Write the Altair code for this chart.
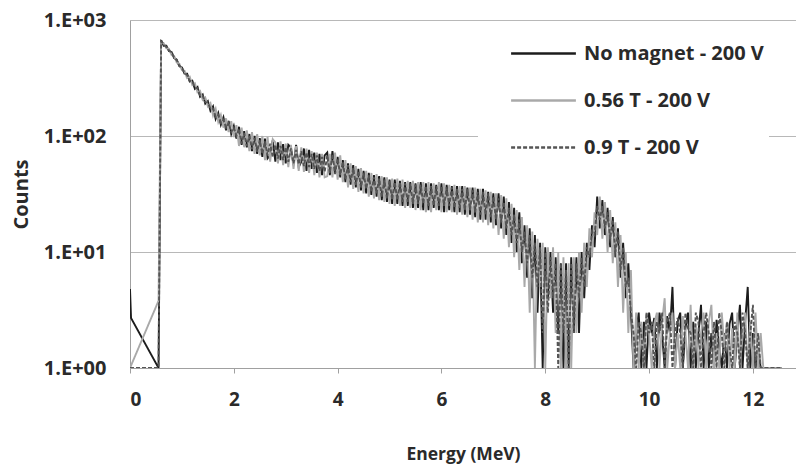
import altair as alt
import pandas as pd

series_names = ["No magnet - 200 V", "0.56 T - 200 V", "0.9 T - 200 V"]
series_colors = ["#1c1c1c", "#a9a9a9", "#555555"]
series_dash = [[1, 0], [1, 0], [4, 2]]

# Low-energy points before the main channel grid (energy MeV, counts)
pre_energy = {
    "No magnet - 200 V": [0.0, 0.02, 0.55],
    "0.56 T - 200 V": [0.0, 0.55],
    "0.9 T - 200 V": [0.0, 0.55],
}
pre_counts = {
    "No magnet - 200 V": [4.8, 2.7, 1],
    "0.56 T - 200 V": [1, 3.8],
    "0.9 T - 200 V": [1, 1],
}

# Channel grid: 0.60 MeV onward in 0.05 MeV steps
grid_start = 0.60
grid_step = 0.05

counts_no_magnet = [
    670, 600, 600, 540, 530, 470, 455, 400, 390, 345,
    345, 295, 300, 255, 265, 218, 228, 190, 200, 165,
    180, 140, 158, 125, 145, 112, 135, 104, 122, 95,
    120, 84, 110, 80, 104, 74, 100, 70, 96, 66,
    95, 64, 68, 92, 60, 88, 62, 85, 58, 84,
    80, 56, 84, 54, 60, 78, 50, 76, 52, 72,
    48, 70, 46, 68, 72, 46, 74, 48, 66, 44,
    62, 40, 58, 38, 56, 36, 52, 34, 50, 32,
    48, 31, 46, 30, 45, 28, 44, 27, 42, 26,
    42, 26, 41, 25, 40, 25, 40, 24, 39, 24,
    40, 23, 39, 23, 39, 24, 38, 23, 39, 22,
    38, 23, 37, 22, 37, 22, 37, 21, 36, 21,
    36, 20, 35, 19, 35, 19, 33, 18, 32, 17,
    32, 16, 30, 14, 27, 12, 24, 10, 22, 8,
    17, 6, 16, 4, 14, 3, 12, 1, 11, 4,
    10, 3, 9, 2, 8, 1, 8, 1, 9, 2,
    9, 2, 10, 4, 12, 7, 17, 11, 30, 16,
    28, 14, 24, 11, 20, 9, 16, 6, 12, 4,
    8, 3, 1, 2, 3, 1, 2.5, 1, 3, 2,
    2.7, 1, 3, 2, 1, 2.8, 2, 5, 1, 2.5,
    3, 1, 2.2, 3, 1, 2.5, 1, 2, 3.5, 1,
    2.5, 1, 2, 1, 2.6, 1.5, 1, 2, 1, 2.4,
    3, 1, 2, 3.5, 1, 2.5, 5, 1, 2, 1,
    1.5, 1, 1, 1, 1, 1, 1, 1, 1, 1,
]

counts_056T = [
    640, 630, 570, 565, 500, 490, 430, 420, 370, 365,
    315, 325, 275, 285, 238, 245, 205, 215, 180, 192,
    150, 172, 132, 152, 118, 142, 108, 134, 98, 124,
    82, 118, 80, 112, 74, 108, 70, 104, 68, 100,
    62, 98, 60, 94, 88, 58, 90, 56, 86, 54,
    84, 52, 82, 50, 80, 49, 78, 48, 74, 46,
    72, 44, 70, 44, 45, 70, 44, 72, 42, 68,
    40, 62, 36, 58, 35, 55, 33, 53, 32, 50,
    30, 48, 29, 47, 28, 45, 27, 44, 26, 43,
    25, 43, 25, 42, 24, 41, 24, 41, 23, 40,
    23, 40, 22, 40, 22, 39, 23, 40, 22, 39,
    22, 38, 22, 38, 21, 37, 21, 37, 20, 36,
    19, 36, 18, 35, 18, 34, 17, 33, 16, 32,
    14, 31, 13, 29, 11, 26, 9, 23, 7, 20,
    5, 17, 3, 15, 1, 13, 5, 12, 1, 11,
    4, 11, 2, 10, 1, 9, 1, 8, 1, 9,
    2, 10, 3, 12, 5, 16, 9, 22, 14, 30,
    13, 27, 10, 23, 8, 18, 5, 14, 3, 10,
    2, 7, 1, 3, 1, 2.5, 1, 3, 2, 1,
    2.4, 3, 1, 2.5, 4, 1, 2, 3, 1, 2,
    1, 2.8, 2, 1, 3.5, 1, 2.4, 1, 2, 3,
    1, 2.5, 3.5, 1, 2, 1, 3, 1.5, 2.5, 1,
    2.2, 1, 3, 1, 2, 3, 1, 2.5, 1, 3,
    1, 2, 1, 1, 1, 1, 1, 1, 1, 1,
]

counts_09T = [
    655, 615, 585, 550, 525, 475, 450, 405, 385, 350,
    335, 300, 295, 262, 258, 225, 222, 196, 195, 172,
    172, 146, 152, 130, 138, 118, 130, 108, 118, 100,
    116, 86, 106, 82, 100, 77, 96, 73, 92, 70,
    90, 68, 86, 66, 84, 64, 82, 62, 80, 60,
    78, 58, 76, 57, 74, 55, 72, 54, 70, 52,
    68, 50, 66, 49, 68, 48, 70, 47, 64, 46,
    60, 42, 56, 40, 53, 38, 50, 36, 48, 35,
    46, 33, 44, 32, 43, 30, 42, 29, 41, 28,
    40, 28, 40, 27, 39, 27, 39, 26, 38, 26,
    38, 26, 37, 25, 37, 25, 37, 25, 37, 25,
    36, 25, 36, 24, 35, 24, 35, 23, 35, 23,
    34, 22, 33, 21, 33, 21, 32, 20, 30, 19,
    29, 18, 27, 16, 24, 14, 21, 12, 19, 10,
    15, 8, 14, 6, 12, 5, 11, 2, 10, 3,
    9, 4, 8, 1, 8, 2, 7, 1, 8, 2,
    8, 4, 9, 5, 11, 9, 15, 14, 25, 19,
    25, 16, 22, 13, 19, 10, 15, 7, 11, 5,
    6, 3, 2, 1, 2.5, 2, 1, 3, 2, 2.5,
    1, 2.5, 2, 3, 1, 2.5, 3, 1, 2, 2.7,
    2, 1, 3, 2.2, 2, 1, 3, 2.5, 1, 2,
    3, 2, 1, 2.5, 1, 3, 2, 1, 2.5, 1.5,
    1, 2.5, 2, 1, 3, 2, 1, 2, 3.5, 1,
    2, 1, 1, 1, 1, 1, 1, 1, 1, 1,
]

y_ticks = [1, 10, 100, 1000]
x_ticks = [0, 2, 4, 6, 8, 10, 12]

series_counts = {
    "No magnet - 200 V": counts_no_magnet,
    "0.56 T - 200 V": counts_056T,
    "0.9 T - 200 V": counts_09T,
}

rows = []
for name in series_names:
    order = 0
    for e, c in zip(pre_energy[name], pre_counts[name]):
        rows.append({"series": name, "energy": e, "counts": c, "order": order})
        order += 1
    for i, c in enumerate(series_counts[name]):
        rows.append({"series": name, "energy": round(grid_start + grid_step * i, 2),
                     "counts": c, "order": order})
        order += 1
df = pd.DataFrame(rows)

FONT = "Open Sans"
TXT = "#2a2a2a"

legend = alt.Legend(
    orient="none", legendX=348, legendY=4, title=None,
    symbolType="M-1.35,0H1.35", symbolSize=2304, symbolStrokeWidth=2.5,
    symbolOffset=36, labelOffset=15,
    labelFont=FONT, labelFontSize=20, labelFontWeight="bold", labelColor=TXT,
    rowPadding=11, padding=4, fillColor="white", strokeColor="white",
    labelLimit=400,
)

chart = alt.Chart(df).mark_line(strokeWidth=1.9, clip=True).encode(
    x=alt.X("energy:Q",
            scale=alt.Scale(domain=[0, 12.83], nice=False, zero=False),
            axis=alt.Axis(values=x_ticks, title="Energy (MeV)", grid=False,
                          domainColor="#a0a0a0", tickColor="#a0a0a0", tickSize=5,
                          labelFont=FONT, labelFontSize=19, labelFontWeight="bold",
                          labelColor=TXT, labelPadding=17,
                          titleFont=FONT, titleFontSize=17.5, titleFontWeight="bold",
                          titleColor=TXT, titlePadding=36)),
    y=alt.Y("counts:Q",
            scale=alt.Scale(type="log", domain=[1, 1000], nice=False),
            axis=alt.Axis(values=y_ticks, title="Counts",
                          labelExpr="'1.E+0' + round(log(datum.value)/LN10)",
                          grid=True, gridColor="#b8b8b8", gridWidth=1.2,
                          ticks=False, domainColor="#a0a0a0",
                          labelFont=FONT, labelFontSize=20, labelFontWeight="bold",
                          labelColor=TXT, labelPadding=24,
                          titleFont=FONT, titleFontSize=20, titleFontWeight="bold",
                          titleColor=TXT, titlePadding=12)),
    color=alt.Color("series:N", scale=alt.Scale(domain=series_names, range=series_colors),
                    legend=legend),
    strokeDash=alt.StrokeDash("series:N", scale=alt.Scale(domain=series_names, range=series_dash),
                              legend=legend),
    order=alt.Order("order:Q"),
).properties(
    width=666, height=348,
    autosize=alt.AutoSizeParams(type="none"),
    padding={"left": 130, "top": 20, "right": 0, "bottom": 102},
).configure_view(stroke=None).configure(background="white")

chart.save("out.html", embed_options={"renderer": "svg", "actions": False})
